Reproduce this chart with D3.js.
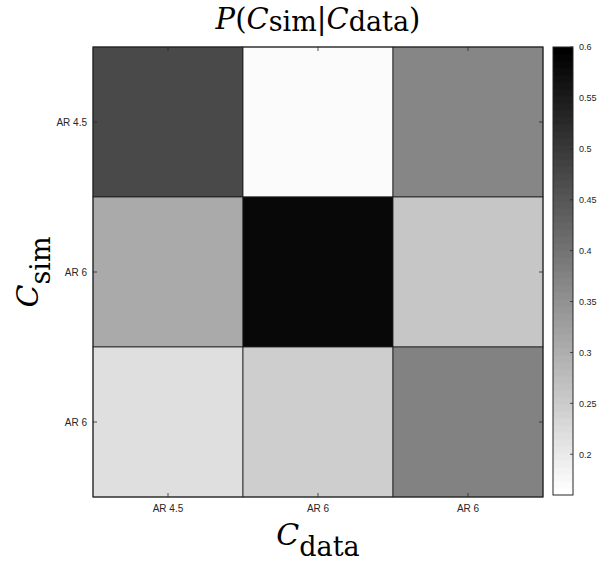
<!DOCTYPE html>
<html><head><meta charset="utf-8">
<script src="https://cdn.jsdelivr.net/npm/d3@7"></script>
<style>body{margin:0;background:#fff}svg{display:block}</style>
</head><body>
<script>
// data
const xLabels = ["AR 4.5", "AR 6", "AR 6"];   // C_data
const yLabels = ["AR 4.5", "AR 6", "AR 6"];   // C_sim
const row0 = [0.476, 0.170, 0.370];
const row1 = [0.310, 0.585, 0.260];
const row2 = [0.220, 0.246, 0.376];
const rows = [row0, row1, row2];
const cbTicks = [0.2, 0.25, 0.3, 0.35, 0.4, 0.45, 0.5, 0.55, 0.6];
const cMin = 0.16, cMax = 0.6;

const W = 599, H = 568;
const svg = d3.select("body").append("svg").attr("width", W).attr("height", H);
const L = 93, T = 47, S = 450;
const x = d3.scaleBand().domain(d3.range(3)).range([L, L + S]);
const y = d3.scaleBand().domain(d3.range(3)).range([T, T + S]);
const color = d3.scaleLinear().domain([cMin, cMax]).range(["#ffffff", "#000000"]).clamp(true);
const quant = v => { // 64-level colormap like MATLAB
  const i = Math.max(0, Math.min(63, Math.floor((v - cMin) / (cMax - cMin) * 64)));
  return color(cMin + (i / 63) * (cMax - cMin));
};

const cells = [];
rows.forEach((r, i) => r.forEach((v, j) => cells.push({i, j, v})));
svg.append("g").selectAll("rect").data(cells).join("rect")
  .attr("x", d => x(d.j)).attr("y", d => y(d.i))
  .attr("width", x.bandwidth()).attr("height", y.bandwidth())
  .attr("fill", d => quant(d.v))
  .attr("stroke", "#1a1a1a").attr("stroke-width", 0.8);

// axis box
svg.append("rect").attr("x", L).attr("y", T).attr("width", S).attr("height", S)
  .attr("fill", "none").attr("stroke", "#262626").attr("stroke-width", 1);

const tickCol = "#262626";
const fontSans = "'Liberation Sans', Arial, Helvetica, sans-serif";
const xc = d => x(d) + x.bandwidth() / 2, yc = d => y(d) + y.bandwidth() / 2;
const gt = svg.append("g").attr("stroke", tickCol).attr("stroke-width", 0.8);
d3.range(3).forEach(d => {
  gt.append("line").attr("x1", xc(d)).attr("x2", xc(d)).attr("y1", T + S).attr("y2", T + S - 4);
  gt.append("line").attr("x1", xc(d)).attr("x2", xc(d)).attr("y1", T).attr("y2", T + 4);
  gt.append("line").attr("y1", yc(d)).attr("y2", yc(d)).attr("x1", L).attr("x2", L + 4);
  gt.append("line").attr("y1", yc(d)).attr("y2", yc(d)).attr("x1", L + S).attr("x2", L + S - 4);
});
svg.append("g").selectAll("text").data(xLabels).join("text")
  .attr("x", (d, i) => xc(i)).attr("y", T + S + 15)
  .attr("text-anchor", "middle").attr("font-family", fontSans).attr("font-size", 10)
  .attr("fill", tickCol).text(d => d);
svg.append("g").selectAll("text").data(yLabels).join("text")
  .attr("x", L - 6).attr("y", (d, i) => yc(i)).attr("dy", "0.35em")
  .attr("text-anchor", "end").attr("font-family", fontSans).attr("font-size", 10)
  .attr("fill", tickCol).text(d => d);

// colorbar
const cbX = 553, cbW = 20, cbT = 47, cbB = 495;
const cy = d3.scaleLinear().domain([cMin, cMax]).range([cbB, cbT]);
const steps = d3.range(64);
svg.append("g").selectAll("rect").data(steps).join("rect")
  .attr("x", cbX).attr("width", cbW)
  .attr("y", i => cy(cMin + (i + 1) / 64 * (cMax - cMin)))
  .attr("height", i => cy(cMin + i / 64 * (cMax - cMin)) - cy(cMin + (i + 1) / 64 * (cMax - cMin)) + 0.5)
  .attr("fill", i => color(cMin + i / 63 * (cMax - cMin)));
svg.append("rect").attr("x", cbX).attr("y", cbT).attr("width", cbW).attr("height", cbB - cbT)
  .attr("fill", "none").attr("stroke", "#262626").attr("stroke-width", 1);
const cbAxis = d3.axisRight(cy).tickValues(cbTicks).tickSize(0).tickPadding(6).tickFormat(d3.format("~g"));
const cg = svg.append("g").attr("transform", `translate(${cbX + cbW},0)`).call(cbAxis);
cg.select(".domain").remove();
cg.selectAll("text").attr("font-family", fontSans).attr("font-size", 9).attr("fill", tickCol);
svg.append("g").attr("stroke", tickCol).attr("stroke-width", 0.8).selectAll("line").data(cbTicks).join("line")
  .attr("x1", cbX + cbW).attr("x2", cbX + cbW - 3).attr("y1", d => cy(d)).attr("y2", d => cy(d));

// labels (LaTeX-like)
const serif = "'DejaVu Serif', 'Liberation Serif', serif";
const title = svg.append("text").attr("x", L + S / 2).attr("y", 29)
  .attr("text-anchor", "middle").attr("font-family", serif).attr("font-size", 29).attr("fill", "#000");
title.append("tspan").attr("font-style", "italic").text("P");
title.append("tspan").text("(");
title.append("tspan").attr("font-style", "italic").text("C");
title.append("tspan").attr("font-size", 27).attr("dy", 2).text("sim");
title.append("tspan").attr("dy", -2).text("|");
title.append("tspan").attr("font-style", "italic").text("C");
title.append("tspan").attr("font-size", 27).attr("dy", 2).text("data");
title.append("tspan").attr("dy", -2).text(")");

const xl = svg.append("text").attr("x", L + S / 2).attr("y", 545)
  .attr("text-anchor", "middle").attr("font-family", serif).attr("font-size", 30).attr("fill", "#000");
xl.append("tspan").attr("font-style", "italic").text("C");
xl.append("tspan").attr("font-size", 27).attr("dy", 11).text("data");

const yl = svg.append("text").attr("transform", `translate(38,${T + S / 2}) rotate(-90)`)
  .attr("text-anchor", "middle").attr("font-family", serif).attr("font-size", 30).attr("fill", "#000");
yl.append("tspan").attr("font-style", "italic").text("C");
yl.append("tspan").attr("font-size", 27).attr("dy", 12).text("sim");
</script>
</body></html>
